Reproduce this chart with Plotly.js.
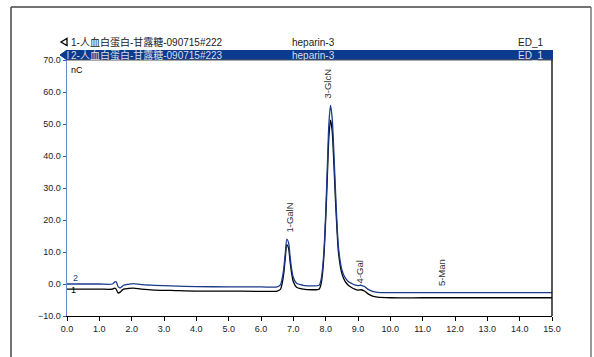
<!DOCTYPE html>
<html><head><meta charset="utf-8">
<script src="https://cdn.plot.ly/plotly-3.0.1.min.js"></script>
<style>html,body{margin:0;padding:0;background:#fff}#chart{width:594px;height:357px}</style>
</head><body><div id="chart"></div>
<script>
// Retention time (min)
const times = [0,0.5,1.0,1.4,1.47,1.52,1.58,1.65,1.75,1.9,2.05,2.3,2.7,3.2,4.0,5.0,6.0,6.5,6.6,6.65,6.7,6.75,6.8,6.85,6.9,6.95,7.0,7.1,7.3,7.6,7.8,7.85,7.9,7.95,8.0,8.05,8.1,8.15,8.2,8.25,8.3,8.35,8.4,8.5,8.6,8.7,8.8,8.9,9.0,9.1,9.2,9.3,9.45,9.6,10,11,12,13,14,15];
// Series 1 (black) nC
const series1 = [-1.6,-1.6,-1.6,-1.6,-1.3,-1.6,-2.8,-2.5,-1.6,-1.4,-1.3,-1.6,-1.9,-2.0,-2.2,-2.2,-2.3,-2.2,-1.7,0,3,8,12.3,11.3,7,3.2,0.7,-1.0,-1.6,-1.8,-1.6,-0.3,3,9.5,20,33,46,51.2,48,38.5,27,17,9.5,3.3,0.8,-0.4,-1.1,-1.6,-1.9,-1.8,-2.2,-3.0,-3.8,-4.1,-4.3,-4.3,-4.3,-4.3,-4.3,-4.3];
// Series 2 (blue) nC
const series2 = [0,0,0,0,0.6,0.7,-0.8,-1.2,-0.4,-0.1,0.1,-0.2,-0.4,-0.6,-0.8,-0.9,-0.9,-0.9,-0.3,1.5,4.5,9.5,14.0,13.0,8.5,4.5,2.0,0.2,-0.4,-0.6,-0.4,1.0,4.5,11,22,36,50,55.8,52,42,30,19,11,4.5,2.0,0.8,0.2,-0.3,-0.5,-0.4,-0.8,-1.6,-2.3,-2.6,-2.7,-2.7,-2.7,-2.7,-2.7,-2.7];
// Peak labels
const peakNames = ["1-GalN","3-GlcN","4-Gal","5-Man"];
const peakTimes = [6.87,8.07,9.06,11.59];
const peakLabelY = [15.5,57.3,-0.3,-1.2];
// Header rows
const headerNames = ["1-人血白蛋白-甘露糖-090715#222","2-人血白蛋白-甘露糖-090715#223"];
const headerPrograms = ["heparin-3","heparin-3"];
const headerDetectors = ["ED_1","ED_1"];

const F = "Liberation Sans, Arial, Noto Sans CJK SC, sans-serif";
const traces = [
  {x: times, y: series1, mode:'lines', line:{color:'#000000', width:1.3, shape:'spline', smoothing:0.8}, hoverinfo:'skip'},
  {x: times, y: series2, mode:'lines', line:{color:'#1a3a8c', width:1.3, shape:'spline', smoothing:0.8}, hoverinfo:'skip'}
];
const annotations = [];
peakNames.forEach((n,i)=>annotations.push({x:peakTimes[i], y:peakLabelY[i], xref:'x', yref:'y', text:n, showarrow:false, textangle:-90, xanchor:'center', yanchor:'bottom', font:{family:F, size:9.5, color:'#333'}}));
annotations.push({x:0.25, y:-0.4, xref:'x', yref:'y', text:'2', showarrow:false, xanchor:'center', yanchor:'bottom', font:{family:F,size:9,color:'#1a3a8c'}});
annotations.push({x:0.2, y:-1.9, xref:'x', yref:'y', text:'1', showarrow:false, xanchor:'center', yanchor:'middle', font:{family:F,size:9,color:'#000'}});
annotations.push({x:0.004, y:0.96, xref:'paper', yref:'paper', text:'nC', showarrow:false, xanchor:'left', yanchor:'middle', font:{family:F,size:9,color:'#000'}});
const rowY = [1.0703, 1.0195];
const rowCol = ['#222222', '#d8deea'];
for (let i=0;i<2;i++){
  annotations.push({x:0.004, y:rowY[i], xref:'paper', yref:'paper', text:headerNames[i], showarrow:false, xanchor:'left', yanchor:'middle', font:{family:F,size:10,color:rowCol[i]}});
  annotations.push({x:0.46, y:rowY[i], xref:'paper', yref:'paper', text:headerPrograms[i], showarrow:false, xanchor:'left', yanchor:'middle', font:{family:F,size:10,color:rowCol[i]}});
  annotations.push({x:0.9856, y:rowY[i], xref:'paper', yref:'paper', text:headerDetectors[i], showarrow:false, xanchor:'right', yanchor:'middle', font:{family:F,size:10,color:rowCol[i]}});
}
const px = v => (v-67)/485, py = v => (316-v)/256;
const shapes = [
  // outer frame
  {type:'line', xref:'paper', yref:'paper', x0:px(11), x1:px(11), y0:py(7), y1:py(360), line:{color:'#444', width:1.5}},
  {type:'line', xref:'paper', yref:'paper', x0:px(11), x1:px(591), y0:py(7), y1:py(7), line:{color:'#444', width:1.5}},
  {type:'line', xref:'paper', yref:'paper', x0:px(591), x1:px(591), y0:py(7), y1:py(360), line:{color:'#777', width:1.5}},
  // selected row band
  {type:'rect', xref:'paper', yref:'paper', x0:px(67), x1:px(553), y0:py(60), y1:py(50), fillcolor:'#0c3a8e', line:{width:0}},
  {type:'path', xref:'paper', yref:'paper', path:`M ${px(60)} ${py(55)} L ${px(67)} ${py(50)} L ${px(67)} ${py(60)} Z`, fillcolor:'#0c3a8e', line:{color:'#0c3a8e', width:1}},
  {type:'line', xref:'paper', yref:'paper', x0:px(68), x1:px(68), y0:py(59), y1:py(51), line:{color:'#d8deea', width:1}},
  // row1 marker triangle
  {type:'path', xref:'paper', yref:'paper', path:`M ${px(61)} ${py(42)} L ${px(67)} ${py(38.5)} L ${px(67)} ${py(45.5)} Z`, fillcolor:'rgba(0,0,0,0)', line:{color:'#000', width:1.3}},
  // line under band
  {type:'line', xref:'paper', yref:'paper', x0:px(67), x1:px(553), y0:1, y1:1, line:{color:'#555', width:1}},
  // right plot border
  {type:'line', xref:'paper', yref:'paper', x0:1, x1:1, y0:0, y1:1, line:{color:'#000', width:1.3}}
];
const layout = {
  width:594, height:357, paper_bgcolor:'#fff', plot_bgcolor:'#fff',
  margin:{l:67, r:42, t:60, b:41},
  showlegend:false,
  xaxis:{range:[0,15], dtick:1, tick0:0, tickformat:'.1f', showgrid:false, zeroline:false, showline:true, linecolor:'#000', linewidth:1.3, ticks:'outside', ticklen:4, tickcolor:'#000', tickfont:{family:F,size:9,color:'#222'}, fixedrange:true},
  yaxis:{range:[-10,70], dtick:10, tick0:0, tickformat:'.1f', showgrid:false, zeroline:false, showline:true, linecolor:'#6a88cc', linewidth:1.5, ticks:'outside', ticklen:3, tickcolor:'#3a5aa8', tickfont:{family:F,size:9,color:'#222'}, fixedrange:true},
  annotations, shapes
};
Plotly.newPlot('chart', traces, layout, {displayModeBar:false, staticPlot:true});
</script></body></html>
